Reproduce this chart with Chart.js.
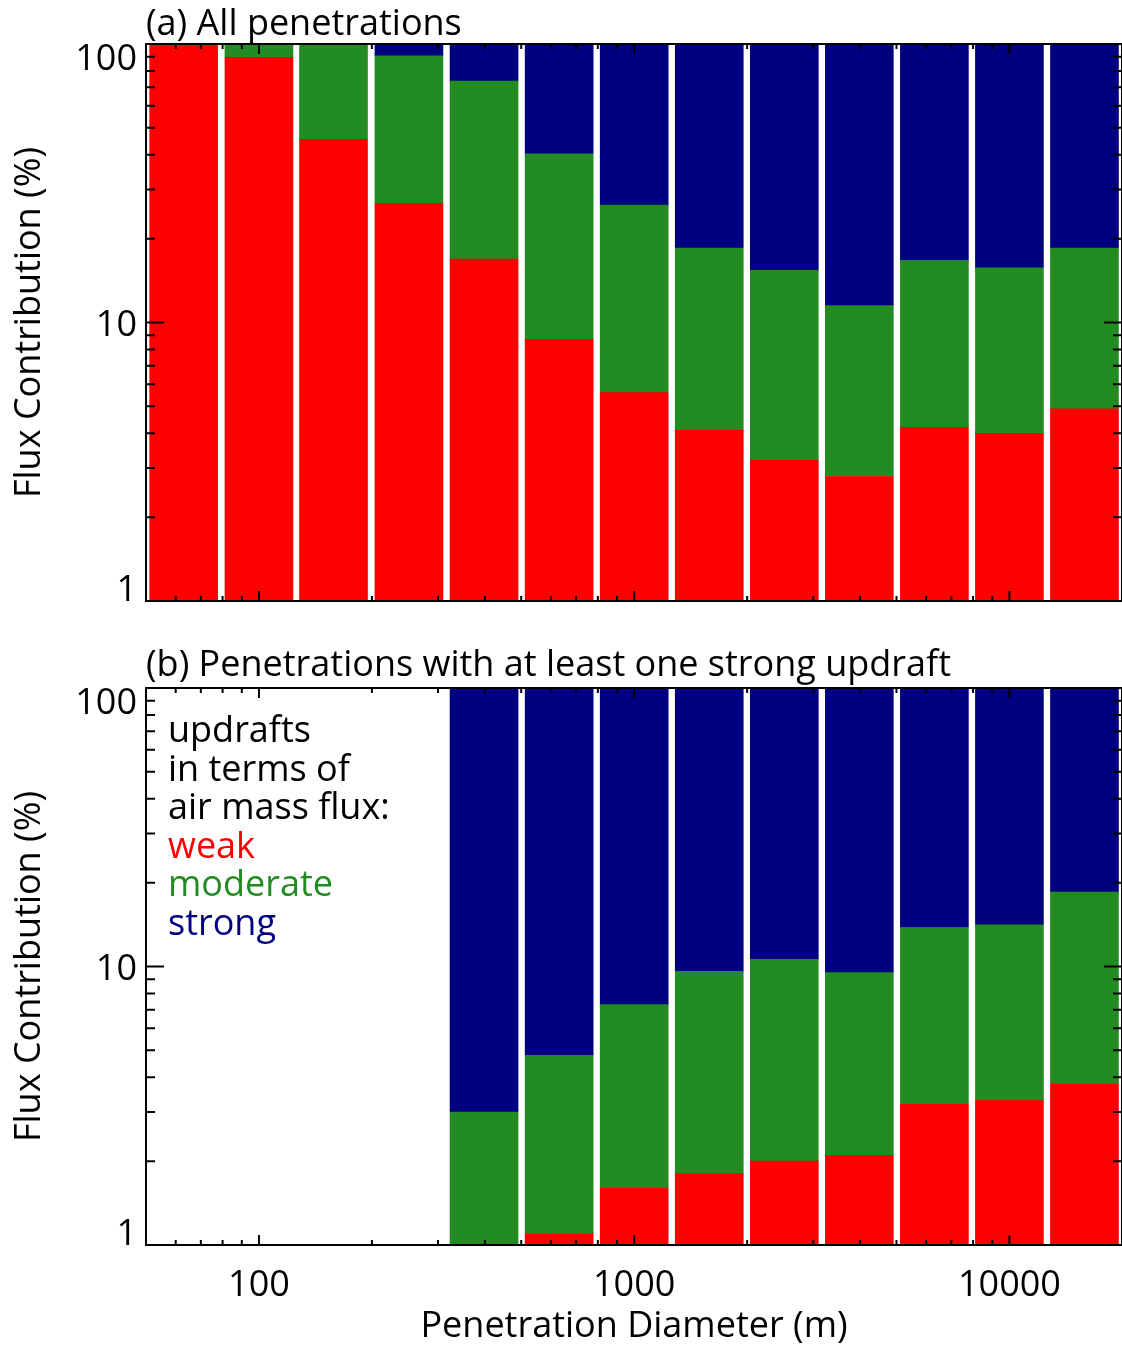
<!DOCTYPE html>
<html>
<head>
<meta charset="utf-8">
<title>Flux contribution by penetration diameter</title>
<script src="https://cdn.jsdelivr.net/npm/chart.js@4.4.1/dist/chart.umd.min.js"></script>
<style>
  html, body { margin: 0; padding: 0; background: #fff; }
  .panel { position: absolute; left: 0; width: 1122px; }
  #panelA { top: 0; height: 606px; }
  #panelB { top: 620px; height: 727px; }
</style>
</head>
<body>
<div class="panel" id="panelA"><canvas id="chartA"></canvas></div>
<div class="panel" id="panelB"><canvas id="chartB"></canvas></div>
<script>
// bin centres (m), 5 bins per decade
const diameters = [63, 100, 158, 251, 398, 631, 1000, 1585, 2512, 3981, 6310, 10000, 15849];

// (a) all penetrations, % of flux
const weakA     = [100, 89.6, 45.5, 26.8, 16.9, 8.7, 5.6, 4.1, 3.2, 2.8, 4.2, 4.0, 4.9];
const moderateA = [0, 10.4, 54.5, 63.8, 56.7, 31.6, 20.8, 14.4, 12.2, 8.7, 12.5, 11.7, 13.6];
const strongA   = [0, 0, 0, 9.4, 26.4, 59.7, 73.6, 81.5, 84.6, 88.5, 83.3, 84.3, 81.5];

// (b) penetrations with at least one strong updraft
const weakB     = [null, null, null, null, 0.8, 1.1, 1.6, 1.8, 2.0, 2.1, 3.2, 3.3, 3.8];
const moderateB = [null, null, null, null, 2.2, 3.7, 5.7, 7.8, 8.6, 7.4, 10.6, 10.8, 14.7];
const strongB   = [null, null, null, null, 97.0, 95.2, 92.7, 90.4, 89.4, 90.5, 86.2, 85.9, 81.5];

const xTickLabels = ["100", "1000", "10000"];
const yTickLabels = ["1", "10", "100"];
const legendHeader = ["updrafts", "in terms of", "air mass flux:"];

const FONT = "'Open Sans', sans-serif";
Chart.defaults.font.family = FONT;
Chart.defaults.color = "#000";

// 1..9 per decade between lo and hi
function logTicks(lo, hi) {
  const out = [];
  for (let p = 1; p <= 10000; p *= 10) {
    for (let m = 1; m < 10; m++) {
      const v = m * p;
      if (v >= lo && v <= hi) out.push({ value: v });
    }
  }
  return out;
}

// IDL-style box: inward ticks on all four sides, y labels kept inside the box height
const idlAxes = {
  id: "idlAxes",
  afterDatasetsDraw(chart) {
    const { ctx, chartArea: a, scales: { x, y } } = chart;
    ctx.save();
    ctx.strokeStyle = "#000";
    ctx.lineWidth = 2;
    ctx.beginPath();
    x.ticks.forEach(t => {
      const px = x.getPixelForValue(t.value);
      const len = xTickLabels.includes(String(t.value)) ? 10 : 5;
      ctx.moveTo(px, a.bottom); ctx.lineTo(px, a.bottom - len);
      ctx.moveTo(px, a.top); ctx.lineTo(px, a.top + len);
    });
    y.ticks.forEach(t => {
      const py = y.getPixelForValue(t.value);
      const len = yTickLabels.includes(String(t.value)) ? 18 : 9;
      ctx.moveTo(a.left, py); ctx.lineTo(a.left + len, py);
      ctx.moveTo(a.right, py); ctx.lineTo(a.right - len, py);
    });
    ctx.stroke();
    ctx.strokeRect(a.left, a.top, a.right - a.left, a.bottom - a.top);

    ctx.fillStyle = "#000";
    ctx.font = "36px " + FONT;
    ctx.textAlign = "right";
    ctx.textBaseline = "alphabetic";
    const cap = 26;
    yTickLabels.forEach(lbl => {
      const py = y.getPixelForValue(Number(lbl));
      const base = Math.min(a.bottom, Math.max(a.top + cap, py + cap / 2));
      ctx.fillText(lbl, a.left - 9, base);
    });

    const opts = chart.options.plugins.idlAxes;
    if (opts && opts.legend) {
      ctx.textAlign = "left";
      const lines = legendHeader.map(t => ({ text: t, color: "#000" }))
        .concat(chart.data.datasets.map(d => ({ text: d.label, color: d.backgroundColor })));
      lines.forEach((l, i) => {
        ctx.fillStyle = l.color;
        ctx.fillText(l.text, a.left + 22, a.top + 54 + i * 38.5);
      });
    }
    ctx.restore();
  }
};

function makeChart(id, title, weak, moderate, strong, bottomAxis) {
  return new Chart(document.getElementById(id), {
    type: "bar",
    data: {
      labels: diameters,
      datasets: [
        { label: "weak", data: weak, backgroundColor: "#ff0000" },
        { label: "moderate", data: moderate, backgroundColor: "#228b22" },
        { label: "strong", data: strong, backgroundColor: "#000080" }
      ]
    },
    options: {
      responsive: true,
      maintainAspectRatio: false,
      animation: false,
      layout: { padding: 0 },
      datasets: { bar: { barThickness: 68, borderWidth: 0, clip: 0 } },
      plugins: {
        legend: { display: false },
        tooltip: { enabled: false },
        title: {
          display: true,
          text: title,
          align: "start",
          fullSize: false,
          color: "#000",
          font: { family: FONT, size: 36, weight: "normal", lineHeight: 1 },
          padding: bottomAxis ? { top: 28, bottom: 4 } : { top: 7, bottom: 1 }
        },
        idlAxes: { legend: bottomAxis }
      },
      scales: {
        x: {
          type: "logarithmic",
          min: 50,
          max: 19953,
          stacked: true,
          offset: false,
          grid: { display: false, drawTicks: false },
          border: { display: false },
          afterBuildTicks: s => { s.ticks = logTicks(s.min, s.max); },
          afterFit: s => { s.height = bottomAxis ? 102 : 5; },
          ticks: {
            display: bottomAxis,
            autoSkip: false,
            maxRotation: 0,
            padding: 19,
            font: { size: 36 },
            callback: v => xTickLabels.includes(String(v)) ? String(v) : ""
          },
          title: {
            display: bottomAxis,
            text: "Penetration Diameter (m)",
            font: { size: 36, lineHeight: 1.1 },
            padding: 0
          }
        },
        y: {
          type: "logarithmic",
          min: 1,
          max: 100,
          stacked: true,
          grid: { display: false, drawTicks: false },
          border: { display: false },
          afterBuildTicks: s => { s.ticks = logTicks(s.min, s.max); },
          afterFit: s => { s.width = 146; },
          ticks: { display: false },
          title: { display: true, text: "Flux Contribution (%)", font: { size: 36 }, padding: { top: 8, bottom: 0 } }
        }
      }
    },
    plugins: [idlAxes]
  });
}

makeChart("chartA", "(a) All penetrations", weakA, moderateA, strongA, false);
makeChart("chartB", "(b) Penetrations with at least one strong updraft", weakB, moderateB, strongB, true);
</script>
</body>
</html>
